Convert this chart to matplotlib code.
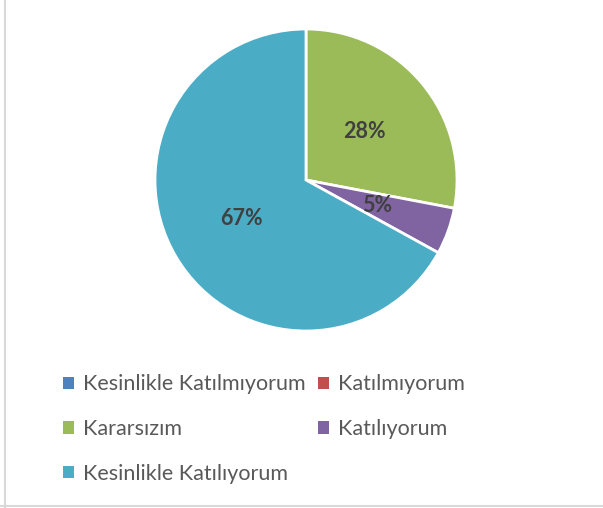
import matplotlib
matplotlib.use("Agg")
import matplotlib.pyplot as plt
from matplotlib.patches import Patch
from matplotlib.lines import Line2D

categories = ["Kesinlikle Katılmıyorum", "Katılmıyorum", "Kararsızım", "Katılıyorum", "Kesinlikle Katılıyorum"]
values = [0, 0, 28, 5, 67]
colors = ["#4F81BD", "#C0504D", "#9BBB59", "#8064A2", "#4BACC6"]

plt.rcParams['font.family'] = ['Lato', 'DejaVu Sans']

W, H = 603, 508
fig = plt.figure(figsize=(W / 100, H / 100), dpi=100)

cx, cy, r = 306, 180, 151
ax = fig.add_axes([(cx - r) / W, 1 - (cy + r) / H, 2 * r / W, 2 * r / H])

def fmt(p):
    return f"{p:.0f}%" if p > 0.5 else ""

wedges, texts, autotexts = ax.pie(
    values, colors=colors, startangle=90, counterclock=False,
    autopct=fmt, pctdistance=0.5, radius=1,
    wedgeprops=dict(edgecolor="white", linewidth=2, clip_on=False),
    textprops=dict(color="#404040", fontsize=15.5, fontweight="bold"))
ax.set_xlim(-1.0, 1.0)
ax.set_ylim(-1.0, 1.0)
ax.set_aspect("equal")
ax.axis("off")

order = [0, 2, 4, 1, 3]
handles = [Patch(facecolor=colors[i], edgecolor="none") for i in order]
labels = [categories[i] for i in order]
leg = fig.legend(handles, labels, ncol=2, loc="upper left",
                 bbox_to_anchor=(44 / W, 1 - 355 / H), frameon=False,
                 fontsize=15.5, labelcolor="#595959",
                 handlelength=0.5, handleheight=0.5, handletextpad=0.4,
                 columnspacing=0.6, labelspacing=1.15)

# light border on left and bottom (as in the reference crop)
fig.add_artist(Line2D([4.5 / W, 4.5 / W], [0, 1], color="#D9D9D9", linewidth=1.5, transform=fig.transFigure))
fig.add_artist(Line2D([0, 1], [1 - 505.5 / H, 1 - 505.5 / H], color="#D9D9D9", linewidth=1.5, transform=fig.transFigure))

fig.savefig("out.png", dpi=100, facecolor="white")
